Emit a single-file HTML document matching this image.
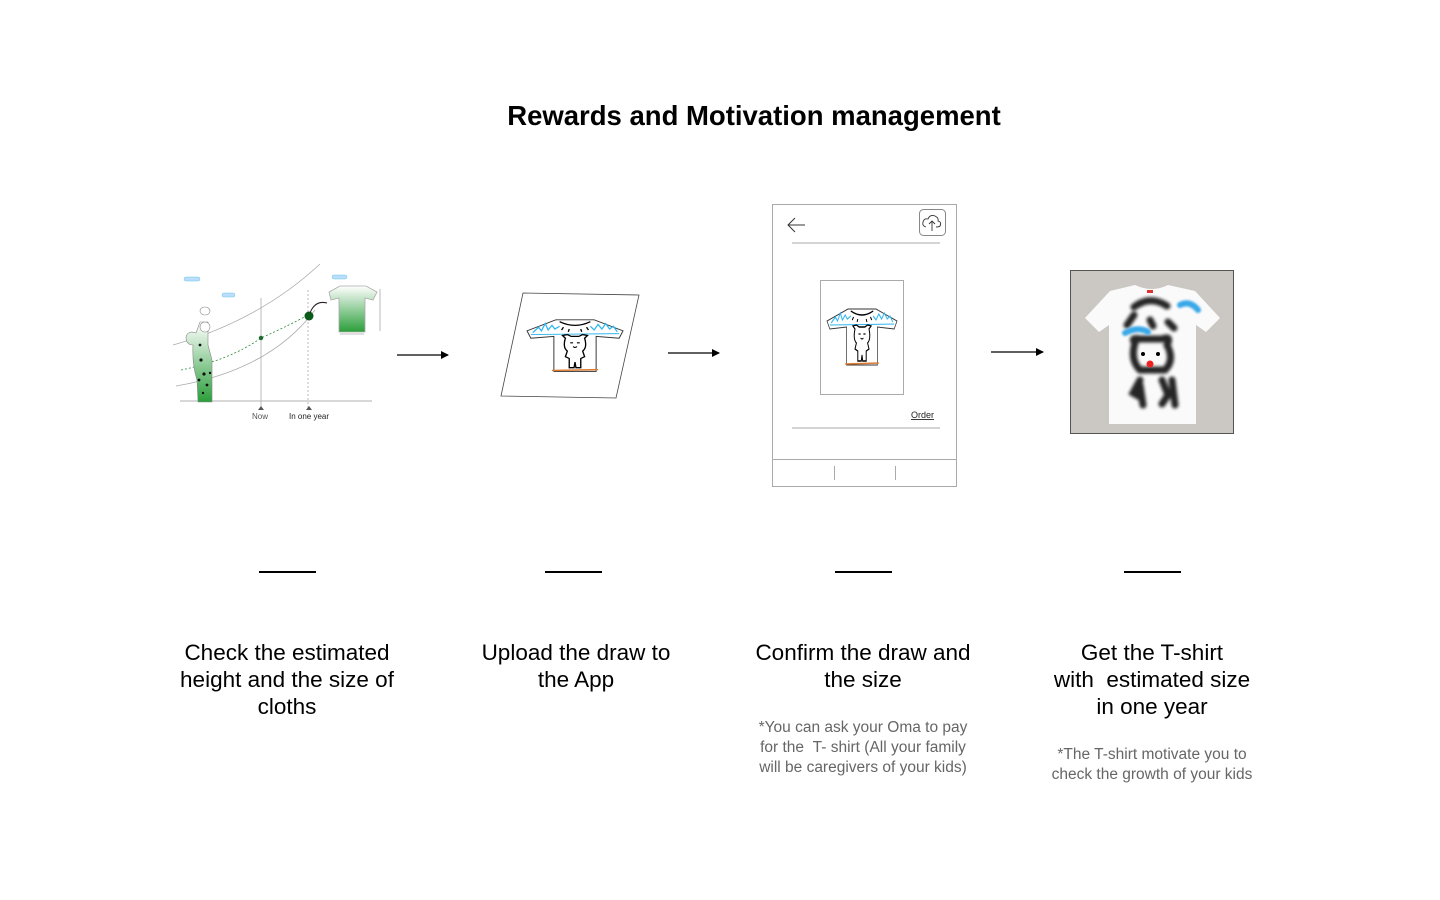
<!DOCTYPE html>
<html><head><meta charset="utf-8"><style>
html,body{margin:0;padding:0;background:#fff;}
body{width:1440px;height:900px;position:relative;overflow:hidden;font-family:"Liberation Sans",sans-serif;color:#000;}
.t{position:absolute;text-align:center;font-size:22.5px;line-height:27px;width:320px;}
.n{position:absolute;text-align:center;font-size:15.5px;line-height:20px;width:320px;color:#666;}
.d{position:absolute;top:571px;height:2px;background:#000;width:57px;}
</style></head><body>
<svg width="1440" height="900" style="position:absolute;left:0;top:0">
<defs>
<g id="shirt">
<path d="M30,2 L70,2 L100,14 L96,22 L72,20 L72,58 L28,58 L28,20 L4,22 L0,14 Z" fill="#fff" stroke="#333" stroke-width="1"/>
<path d="M6,16 L12,10 L15,14 L19,6 L22,13 L26,8 L29,12 L34,9 M66,9 L70,13 L74,7 L78,12 L82,6 L86,12 L90,9 L94,15" stroke="#2bb5ee" stroke-width="1.3" fill="none"/>
<path d="M4,18 L96,17" stroke="#2bb5ee" stroke-width="1"/>
<path d="M34,4 Q50,12 66,4 M38,10 l-2,3 M44,12 l-1,3 M56,12 l1,3 M62,10 l2,3" stroke="#000" stroke-width="1.4" fill="none"/>
<path d="M40,22 L37,19 L42,18 L46,20 L54,20 L58,18 L63,19 L60,22 Q63,32 58,36 L60,42 L56,44 L56,54 L51,54 L50,48 L49,54 L44,54 L44,44 L40,42 L42,36 Q37,32 40,22Z" fill="#fff" stroke="#000" stroke-width="1.4"/>
<path d="M45,27 l3,0 M52,27 l3,0 M48,31 q2,2 4,0" stroke="#000" stroke-width="1.2" fill="none"/>
<path d="M26,57 L74,56" stroke="#e07a2f" stroke-width="1.5"/>
</g>
<linearGradient id="gr" x1="0" y1="0" x2="0" y2="1"><stop offset="0" stop-color="#fff"/><stop offset="1" stop-color="#2a9e3a"/></linearGradient>
<marker id="ah" markerWidth="8" markerHeight="8" refX="7" refY="4" orient="auto" markerUnits="userSpaceOnUse"><path d="M0,0 L8,4 L0,8Z" fill="#000"/></marker>
</defs>
<text x="754" y="125" text-anchor="middle" font-family="Liberation Sans" font-weight="bold" font-size="27.5">Rewards and Motivation management</text>

<!-- chart -->
<g fill="none" stroke="#aaa" stroke-width="0.8">
<line x1="180" y1="401" x2="372" y2="401" stroke="#999"/>
<path d="M173,345 Q260,320 320,264"/>
<path d="M176,386 Q270,370 315,310"/>
<line x1="261" y1="298" x2="261" y2="408"/>
<line x1="308" y1="290" x2="308" y2="408" stroke-dasharray="2,2"/>
<line x1="380" y1="289" x2="380" y2="331"/>
<line x1="340" y1="334" x2="364" y2="334"/>
</g>
<path d="M181,370 Q230,360 261,338 Q290,325 308,315" fill="none" stroke="#2a8a3a" stroke-width="0.8" stroke-dasharray="2,2"/>
<circle cx="261" cy="338" r="2.2" fill="#1a6a2a"/>
<circle cx="309" cy="316" r="4.5" fill="#0a5a1a"/>
<path d="M310,313 Q315,300 327,303" fill="none" stroke="#222" stroke-width="1"/>
<path d="M329,292 L340,286 L366,286 L377,292 L373,300 L365,298 L365,332 L339,332 L339,298 L331,300Z" fill="url(#gr)" stroke="#aaa" stroke-width="0.8"/>
<path d="M193,345 Q186,345 186,337 Q188,330 196,333 L200,322 L208,322 L208,345 L212,360 L212,402 L198,402 L197,380 Q192,365 193,345Z" fill="url(#gr)" stroke="#888" stroke-width="0.6"/>
<circle cx="205" cy="327" r="5" fill="#fff" stroke="#888" stroke-width="0.6"/>
<ellipse cx="205" cy="311" rx="5" ry="4" fill="#fff" stroke="#888" stroke-width="0.6"/>
<g fill="#111"><circle cx="200" cy="345" r="1.4"/><circle cx="201" cy="360" r="1.6"/><circle cx="204" cy="374" r="1.6"/><circle cx="199" cy="380" r="1.4"/><circle cx="207" cy="385" r="1.4"/><circle cx="203" cy="393" r="1.2"/><circle cx="210" cy="373" r="1.2"/></g>
<g fill="#bdf" stroke="#6cd" stroke-width="0.5"><rect x="184" y="277" width="16" height="4" rx="2"/><rect x="222" y="293" width="13" height="4" rx="2"/><rect x="332" y="275" width="15" height="4" rx="2"/></g>
<path d="M258,410 l3,-4 l3,4Z M306,410 l3,-4 l3,4Z" fill="#555"/>
<text x="260" y="419" font-size="8" text-anchor="middle" fill="#555" font-family="Liberation Sans">Now</text>
<text x="309" y="419" font-size="8" text-anchor="middle" fill="#222" font-family="Liberation Sans">In one year</text>

<!-- arrows -->
<g stroke="#000" stroke-width="1.2" marker-end="url(#ah)">
<line x1="397" y1="355" x2="448" y2="355"/>
<line x1="668" y1="353" x2="719" y2="353"/>
<line x1="991" y1="352" x2="1043" y2="352"/>
</g>

<!-- paper -->
<path d="M523,293 L639,295 L616,398 L501,396Z" fill="#fff" stroke="#444" stroke-width="0.8"/>
<use href="#shirt" transform="translate(527,318) scale(0.96,0.92)"/>

<!-- phone -->
<g fill="none" stroke="#aaa" stroke-width="1">
<rect x="772.5" y="204.5" width="184" height="282"/>
<line x1="792" y1="243" x2="940" y2="243"/>
<rect x="820.5" y="280.5" width="83" height="114"/>
<line x1="792" y1="428" x2="940" y2="428"/>
<line x1="772" y1="459.5" x2="957" y2="459.5"/>
<line x1="834.5" y1="466" x2="834.5" y2="480"/>
<line x1="895.5" y1="466" x2="895.5" y2="480"/>
<rect x="919.5" y="209.5" width="26" height="26" rx="4" stroke="#888"/>
</g>
<path d="M805,225 L788,225 M795,218 L788,225 L795,232" fill="none" stroke="#333" stroke-width="1"/>
<path d="M926,227 Q922,226 923,222 Q924,218 928,219 Q930,214 935,216 Q939,218 938,221 Q942,222 940,226 Q939,227 936,227 M932,231 L932,221 M929,224 L932,221 L935,224" fill="none" stroke="#333" stroke-width="0.9"/>
<use href="#shirt" transform="translate(827,307) scale(0.7,1)"/>
<text x="911" y="418" font-size="9" fill="#222" text-decoration="underline" font-family="Liberation Sans">Order</text>

<!-- photo -->
<rect x="1070.5" y="270.5" width="163" height="163" fill="#cbc8c3" stroke="#555"/>
<path d="M1110,291 L1135,285 Q1152,293 1168,285 L1195,291 L1220,318 L1206,332 L1196,325 L1196,424 L1109,424 L1109,325 L1099,332 L1085,318Z" fill="#fafafa"/>
<g fill="none" stroke="#000" stroke-width="7" stroke-linecap="round" opacity="0.85" style="filter:blur(1.5px)">
<path d="M1134,307 Q1150,295 1167,306"/>
<path d="M1127,325 L1134,315 M1150,320 l3,6 M1168,322 l6,6"/>
<path d="M1135,343 Q1130,337 1140,339 L1162,339 Q1172,335 1167,345 Q1175,360 1165,370 L1140,370 Q1130,360 1135,343Z"/>
<path d="M1140,380 L1133,393 L1140,397 M1140,385 L1143,405 M1162,380 L1168,395 L1162,404 M1172,380 L1175,405"/>
</g>
<g fill="none" stroke="#3aa8e8" stroke-width="6" stroke-linecap="round" style="filter:blur(1px)">
<path d="M1180,305 Q1190,300 1198,310"/><path d="M1125,333 Q1138,326 1148,332"/>
</g>
<circle cx="1143" cy="354" r="2" fill="#000"/><circle cx="1158" cy="354" r="2" fill="#000"/>
<circle cx="1150" cy="364" r="3.5" fill="#e22"/>
<rect x="1147" y="290" width="6" height="3" fill="#d33"/>
</svg>

<div class="d" style="left:259px"></div>
<div class="d" style="left:545px"></div>
<div class="d" style="left:835px"></div>
<div class="d" style="left:1124px"></div>

<div class="t" style="left:127px;top:639px">Check the estimated<br>height and the size of<br>cloths</div>
<div class="t" style="left:416px;top:639px">Upload the draw to<br>the App</div>
<div class="t" style="left:703px;top:639px">Confirm the draw and<br>the size</div>
<div class="t" style="left:992px;top:639px">Get the T-shirt<br>with &nbsp;estimated size<br>in one year</div>
<div class="n" style="left:703px;top:718px">*You can ask your Oma to pay<br>for the &nbsp;T- shirt (All your family<br>will be caregivers of your kids)</div>
<div class="n" style="left:992px;top:745px">*The T-shirt motivate you to<br>check the growth of your kids</div>
</body></html>
